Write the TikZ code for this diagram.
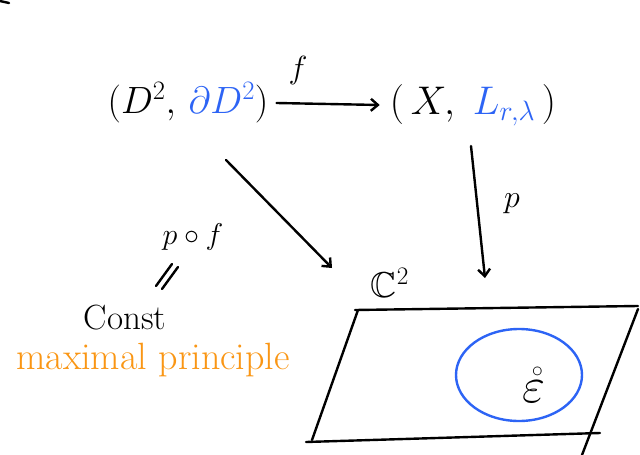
\RequirePackage{fix-cm}
\documentclass[tikz,border=0pt]{standalone}
\usepackage{amssymb}
\usetikzlibrary{arrows.meta}
\definecolor{hblue}{RGB}{45,100,245}
\definecolor{horange}{RGB}{250,150,20}
\tikzset{
  ink/.style={line width=2.4pt, line cap=round, line join=round},
  arr/.style={ink, -{Straight Barb[length=7pt,width=12pt]}},
  big/.style={font=\fontsize{38}{44}\selectfont, inner sep=0pt},
  mid/.style={font=\fontsize{28}{32}\selectfont, inner sep=0pt},
}
\begin{document}
\begin{tikzpicture}[x=1pt,y=-1pt]
\useasboundingbox[fill=white] (0,0) rectangle (640,455);
% stray mark
\draw[ink] (0,1) -- (9,3);
% top row
\node[big] (dd) at (188,103) {$(D^2,\,\textcolor{hblue}{\partial D^2})$};
\node[big, font=\fontsize{40}{46}\selectfont] (xl) at (473,105) {$(\,X,\;\textcolor{hblue}{L_{r,\lambda}}\,)$};
\draw[arr] ([xshift=8pt]dd.east) -- ([xshift=-10pt]xl.west);
\node[mid, font=\fontsize{32}{36}\selectfont] (f) at (298,70) {$f$};
% plane
\coordinate (tl) at (358,310);
\coordinate (tr) at (638,306);
\coordinate (br) at (600,433);
\coordinate (bl) at (306,442);
\draw[ink] (355,310) -- (tr);
\draw[ink] (tl) -- (312,440);
\draw[ink] (bl) -- (br);
\draw[ink] (638,309) -- (582,455);
\node[mid, font=\fontsize{36}{40}\selectfont] (c2) at (390,283) {$\mathbb{C}^2$};
% ellipse
\draw[hblue, ink] (519,375) ellipse [x radius=63, y radius=46];
\node[mid, font=\fontsize{50}{54}\selectfont] (eps) at (534,385) {$\mathring{\varepsilon}$};
% arrows down
\coordinate (dstart) at (226,160);
\coordinate (dend) at (332,268);
\draw[arr] (dstart) -- (dend);
\coordinate (pstart) at (471,146);
\coordinate (pend) at (485,278);
\draw[arr] (pstart) -- (pend);
\node[mid, font=\fontsize{32}{36}\selectfont] (p) at (512,204) {$p$};
% left side
\node[mid, font=\fontsize{30}{34}\selectfont] (pf) at (193,237) {$p\circ f$};
\node[mid, font=\fontsize{35}{40}\selectfont] (const) at (125,318) {Const};
\draw[ink] (156,286) -- (172,264);
\draw[ink] (162,289) -- (178,267);
\node[mid, text=horange, font=\fontsize{38}{42}\selectfont] (mp) at (153,360) {maximal principle};
\end{tikzpicture}
\end{document}
